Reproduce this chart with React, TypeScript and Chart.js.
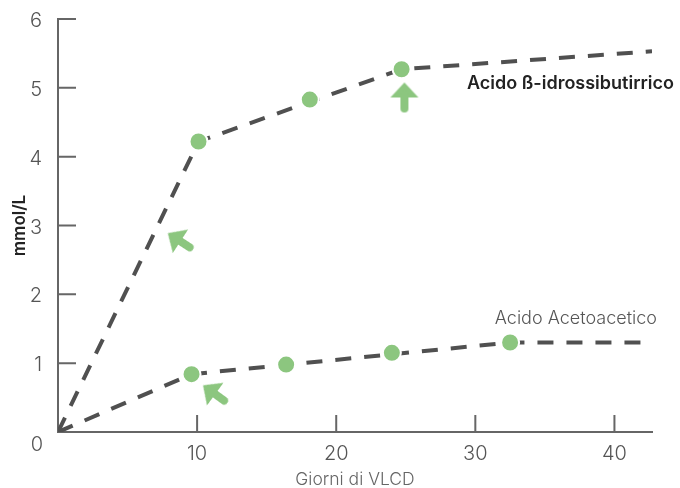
import React, { useEffect, useRef } from "react";
import { Chart, registerables } from "chart.js";

Chart.register(...registerables);

// ---- data ----
const upperLineX = [0, 10.1, 24.7, 42.7];
const upperLineY = [0, 4.22, 5.27, 5.53];
const upperDotsX = [10.1, 18.1, 24.7];
const upperDotsY = [4.22, 4.83, 5.27];

const lowerLineX = [0, 9.6, 32.5, 42.7];
const lowerLineY = [0, 0.84, 1.3, 1.3];
const lowerDotsX = [9.6, 16.4, 24.0, 32.5];
const lowerDotsY = [0.84, 0.98, 1.15, 1.3];

const arrowX = [8.8, 24.9, 11.3];
const arrowY = [2.77, 4.86, 0.55];
const arrowRotation = [-57, 0, -54];

const xTicks = [10, 20, 30, 40];
const yTicks = [1, 2, 3, 4, 5, 6];
const X_MAX = 42.7;
const Y_MAX = 6;

const seriesLabels = ["Acido ß-idrossibutirrico", "Acido Acetoacetico"];
const seriesLabelX = [29.4, 31.4];
const seriesLabelY = [4.99, 1.57];

const xTitle = "Giorni di VLCD";
const yTitle = "mmol/L";

const GREEN = "#8cc67f";
const LINE = "#505050";
const AXIS = "#666666";
const FONT = "Inter, Lato, sans-serif";

function makeArrow(): HTMLCanvasElement {
  const c = document.createElement("canvas");
  c.width = 40;
  c.height = 40;
  const g = c.getContext("2d")!;
  g.fillStyle = GREEN;
  g.strokeStyle = GREEN;
  g.beginPath();
  g.moveTo(20, 5);
  g.lineTo(34, 20);
  g.lineTo(6, 20);
  g.closePath();
  g.fill();
  g.lineWidth = 8;
  g.lineCap = "round";
  g.beginPath();
  g.moveTo(20, 17);
  g.lineTo(20, 31);
  g.stroke();
  return c;
}

const toPts = (xs: number[], ys: number[]) => xs.map((x, i) => ({ x, y: ys[i] }));

const decorPlugin = {
  id: "decor",
  beforeDatasetsDraw(chart: any) {
    const { ctx, scales } = chart;
    const xs = scales.x;
    const ys = scales.y;
    const x0 = xs.getPixelForValue(0);
    const y0 = ys.getPixelForValue(0);
    ctx.save();
    ctx.strokeStyle = AXIS;
    ctx.lineWidth = 2;
    ctx.beginPath();
    xTicks.forEach((v) => {
      const px = xs.getPixelForValue(v);
      ctx.moveTo(px, y0);
      ctx.lineTo(px, y0 - 17);
    });
    yTicks.forEach((v) => {
      const py = ys.getPixelForValue(v);
      ctx.moveTo(x0, py);
      ctx.lineTo(x0 + 18, py);
    });
    ctx.stroke();
    ctx.restore();
  },
  afterDatasetsDraw(chart: any) {
    const { ctx, scales } = chart;
    const xs = scales.x;
    const ys = scales.y;
    ctx.save();
    ctx.fillStyle = "#555555";
    ctx.font = `300 20px ${FONT}`;
    ctx.textAlign = "right";
    ctx.textBaseline = "middle";
    ctx.fillText("0", xs.getPixelForValue(0) - 15, ys.getPixelForValue(0) + 13);
    ctx.textAlign = "left";
    ctx.textBaseline = "alphabetic";
    ctx.fillStyle = "#222222";
    ctx.font = `600 18px ${FONT}`;
    ctx.fillText(seriesLabels[0], xs.getPixelForValue(seriesLabelX[0]), ys.getPixelForValue(seriesLabelY[0]));
    ctx.fillStyle = "#555555";
    ctx.font = `300 18px ${FONT}`;
    ctx.fillText(seriesLabels[1], xs.getPixelForValue(seriesLabelX[1]), ys.getPixelForValue(seriesLabelY[1]));
    ctx.restore();
  },
};

export default function App() {
  const ref = useRef<HTMLCanvasElement | null>(null);

  useEffect(() => {
    if (!ref.current) return;
    const arrowImg = makeArrow();
    const lineStyle = {
      type: "line" as const,
      borderColor: LINE,
      borderWidth: 4,
      borderDash: [16, 13],
      pointRadius: 0,
      fill: false,
      tension: 0,
      order: 3,
    };
    const dotStyle = {
      type: "scatter" as const,
      backgroundColor: GREEN,
      borderColor: "#ffffff",
      borderWidth: 2,
      pointRadius: 9,
      order: 2,
    };
    const chart = new Chart(ref.current, {
      type: "scatter",
      data: {
        datasets: [
          { ...lineStyle, label: "upperLine", data: toPts(upperLineX, upperLineY) },
          { ...lineStyle, label: "lowerLine", data: toPts(lowerLineX, lowerLineY) },
          { ...dotStyle, label: "upperDots", data: toPts(upperDotsX, upperDotsY) },
          { ...dotStyle, label: "lowerDots", data: toPts(lowerDotsX, lowerDotsY) },
          {
            type: "scatter",
            label: "arrows",
            data: toPts(arrowX, arrowY),
            pointStyle: arrowImg as any,
            rotation: arrowRotation as any,
            pointRadius: 18,
            order: 1,
          } as any,
        ],
      },
      options: {
        animation: false,
        responsive: false,
        maintainAspectRatio: false,
        events: [],
        layout: { padding: { top: 15.7, right: 28, left: 0, bottom: 0 } },
        plugins: {
          legend: { display: false },
          tooltip: { enabled: false },
        },
        scales: {
          x: {
            type: "linear",
            min: 0,
            max: X_MAX,
            afterFit: (s: any) => {
              s.height = 56;
              s.paddingLeft = 0;
              s.paddingRight = 0;
            },
            border: { display: true, color: AXIS, width: 2 },
            grid: { display: false, drawTicks: false },
            ticks: {
              stepSize: 10,
              includeBounds: false,
              color: "#555555",
              font: { family: FONT, size: 20, weight: "300" as any },
              padding: 10,
              callback: (v: any) => (v === 0 ? "" : String(v)),
            },
            title: {
              display: true,
              text: xTitle,
              color: "#666666",
              font: { family: FONT, size: 17.5, weight: "300" as any, lineHeight: 1 },
              padding: { top: 0, bottom: 0 },
            },
          },
          y: {
            type: "linear",
            min: 0,
            max: Y_MAX,
            afterFit: (s: any) => {
              s.width = 58;
              s.paddingTop = 0;
              s.paddingBottom = 0;
            },
            border: { display: true, color: AXIS, width: 2 },
            grid: { display: false, drawTicks: false },
            ticks: {
              stepSize: 1,
              color: "#555555",
              font: { family: FONT, size: 20, weight: "300" as any },
              padding: 16,
              labelOffset: 2,
              callback: (v: any) => (v === 0 ? "" : String(v)),
            },
            title: {
              display: true,
              text: yTitle,
              color: "#222222",
              font: { family: FONT, size: 17, weight: "600" as any, lineHeight: 1.2 },
              padding: { top: 10, bottom: 0 },
            },
          },
        },
      },
      plugins: [decorPlugin],
    });
    return () => chart.destroy();
  }, []);

  return (
    <div style={{ position: "fixed", left: 0, top: 0, width: 680, height: 488, background: "#ffffff" }}>
      <canvas ref={ref} width={680} height={488} style={{ width: 680, height: 488, display: "block" }} />
    </div>
  );
}
